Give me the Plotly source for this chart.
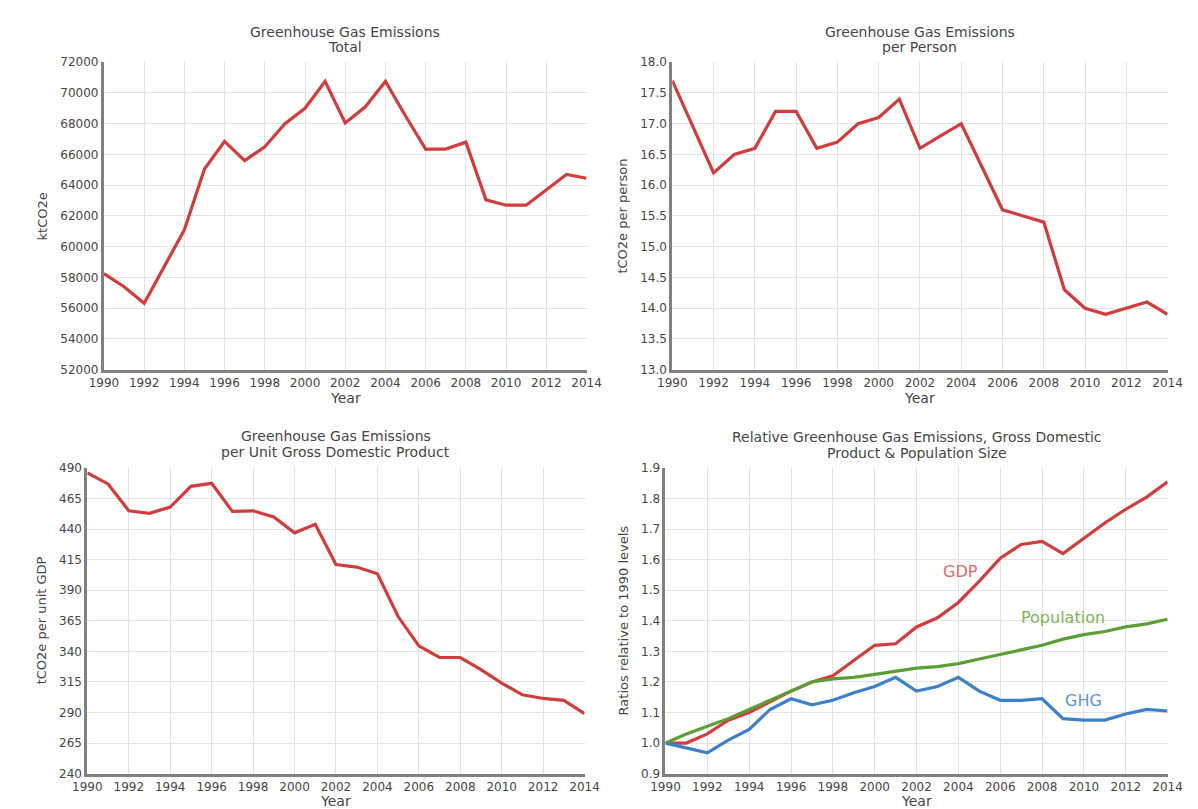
import plotly.graph_objects as go

W, H = 1198, 809

years = list(range(1990, 2015))

ghg_total = [58250, 57400, 56320, 58700, 61100, 65050, 66850, 65600, 66500, 68000,
             69000, 70750, 68050, 69100, 70750, 68500, 66350, 66350, 66800, 63050,
             62700, 62700, 63700, 64700, 64450]

ghg_per_person = [17.7, 16.95, 16.2, 16.5, 16.6, 17.2, 17.2, 16.6, 16.7, 17.0,
                  17.1, 17.4, 16.6, 16.8, 17.0, 16.3, 15.6, 15.5, 15.4, 14.3,
                  14.0, 13.9, 14.0, 14.1, 13.9]

ghg_per_gdp = [486, 477, 455, 453, 458, 475, 477.5, 454.5, 455, 450,
               437, 444, 411, 409, 403.5, 368.5, 344.5, 335, 335, 325,
               314, 304.5, 301.5, 300, 289]

rel_gdp = [1.0, 1.0, 1.03, 1.075, 1.10, 1.135, 1.17, 1.20, 1.22, 1.27,
           1.32, 1.325, 1.38, 1.41, 1.46, 1.53, 1.605, 1.65, 1.66, 1.62,
           1.67, 1.72, 1.765, 1.805, 1.855]

rel_pop = [1.0, 1.03, 1.055, 1.08, 1.11, 1.14, 1.17, 1.20, 1.21, 1.215,
           1.225, 1.235, 1.245, 1.25, 1.26, 1.275, 1.29, 1.305, 1.32, 1.34,
           1.355, 1.365, 1.38, 1.39, 1.405]

rel_ghg = [1.0, 0.985, 0.968, 1.01, 1.045, 1.11, 1.145, 1.125, 1.14, 1.165,
           1.185, 1.215, 1.17, 1.185, 1.215, 1.17, 1.14, 1.14, 1.145, 1.08,
           1.075, 1.075, 1.095, 1.11, 1.105]

titles = [("Greenhouse Gas Emissions", "Total"),
          ("Greenhouse Gas Emissions", "per Person"),
          ("Greenhouse Gas Emissions", "per Unit Gross Domestic Product"),
          ("Relative Greenhouse Gas Emissions, Gross Domestic", "Product &amp; Population Size")]
ytitles = ["ktCO2e", "tCO2e per person", "tCO2e per unit GDP", "Ratios relative to 1990 levels"]

RED = "#d13c3c"
GREEN = "#5a9e35"
BLUE = "#3d7fc8"
FONT = "DejaVu Sans"

# panel pixel boxes: (left, right, top, bottom)
boxes = [(83, 578, 48, 361), (666, 1174, 48, 361), (66, 576, 461, 772), (659, 1174, 461, 772)]
title_y = [(17, 33), (17, 33), (428, 445), (429, 446)]
year_y = [390, 390, 800, 800]
ytx = [20, 615, 19, 616]
yranges = [(52000, 72000, 2000), (13.0, 18.0, 0.5), (240, 490, 25), (0.9, 1.9, 0.1)]
yfmt = ["d", ".1f", "d", ".1f"]

def px(x):
    return x / W

def py(y):
    return 1 - y / H

fig = go.Figure()

series = [
    [(ghg_total, RED)],
    [(ghg_per_person, RED)],
    [(ghg_per_gdp, RED)],
    [(rel_gdp, RED), (rel_pop, GREEN), (rel_ghg, BLUE)],
]

TXT = "#454545"

for i, (l, r, t, b) in enumerate(boxes):
    k = "" if i == 0 else str(i + 1)
    for vals, col in series[i]:
        fig.add_trace(go.Scatter(x=years, y=vals, mode="lines",
                                 line=dict(color=col, width=3.2),
                                 xaxis="x" + k, yaxis="y" + k, showlegend=False,
                                 hoverinfo="x+y"))
    lo, hi, dt = yranges[i]
    fig.layout["xaxis" + k] = dict(domain=[px(l), px(r)], anchor="y" + k, range=[1990, 2014],
                                   dtick=2, tick0=1990, showgrid=True, gridcolor="#e2e2e2",
                                   gridwidth=1, zeroline=False, showline=True, linecolor="#808080",
                                   linewidth=3, ticks="", tickfont=dict(family=FONT, size=12, color=TXT),
                                   fixedrange=True)
    fig.layout["yaxis" + k] = dict(domain=[py(b), py(t)], anchor="x" + k, range=[lo, hi],
                                   dtick=dt, tick0=lo, showgrid=True, gridcolor="#e2e2e2",
                                   gridwidth=1, zeroline=False, showline=True, linecolor="#808080",
                                   linewidth=3, ticks="", tickformat=yfmt[i],
                                   tickfont=dict(family=FONT, size=12, color=TXT),
                                   fixedrange=True)
    cx = (l + r) / 2
    for line_txt, ty in zip(titles[i], title_y[i]):
        fig.add_annotation(x=px(cx), y=py(ty), xref="paper", yref="paper", text=line_txt,
                           showarrow=False, xanchor="center", yanchor="middle",
                           font=dict(family=FONT, size=14, color=TXT))
    fig.add_annotation(x=px(cx), y=py(year_y[i]), xref="paper", yref="paper", text="Year",
                       showarrow=False, xanchor="center", yanchor="middle",
                       font=dict(family=FONT, size=14, color=TXT))
    fig.add_annotation(x=px(ytx[i]), y=py((t + b) / 2), xref="paper", yref="paper",
                       text=ytitles[i], textangle=-90, showarrow=False,
                       xanchor="center", yanchor="middle",
                       font=dict(family=FONT, size=13, color=TXT))

# series labels on panel 4
labels = [("GDP", 2004.1, 1.56, "#e06a6a"), ("Population", 2009.0, 1.41, "#7fb45a"),
          ("GHG", 2010.0, 1.138, "#5f95d2")]
for txt, xv, yv, c in labels:
    fig.add_annotation(x=xv, y=yv, xref="x4", yref="y4", text=txt, showarrow=False,
                       xanchor="center", yanchor="middle", font=dict(family=FONT, size=16, color=c))

fig.update_layout(width=W, height=H, margin=dict(l=0, r=0, t=0, b=0),
                  paper_bgcolor="white", plot_bgcolor="white",
                  font=dict(family=FONT))

fig.write_html("out.html")
